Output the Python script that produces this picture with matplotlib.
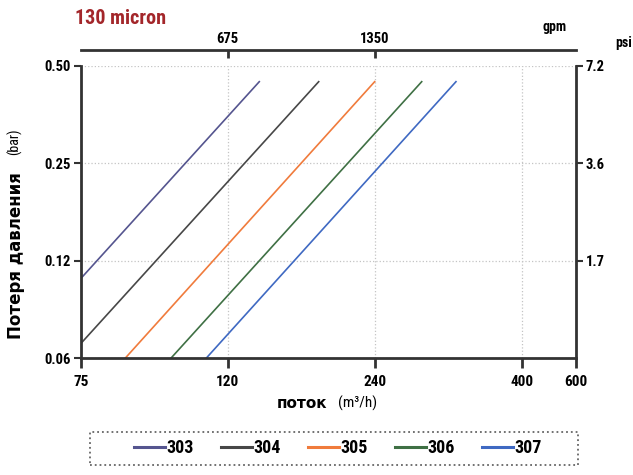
import matplotlib.pyplot as plt
import numpy as np
from matplotlib.lines import Line2D
from matplotlib.patches import Rectangle

# data
sizes = ['303', '304', '305', '306', '307']
colors = ['#55558f', '#474747', '#f07b3c', '#3f7044', '#3f69c2']
flow_start = [75, 75, 88.6, 102.6, 113.4]        # m3/h
flow_end = [145.8, 194.3, 240, 291.2, 328.5]
dp_start = [0.109, 0.069, 0.06, 0.06, 0.06]      # bar
dp_end = [0.459, 0.459, 0.459, 0.459, 0.459]

x_ticks = [75, 120, 240, 400, 600]
y_ticks = [0.06, 0.12, 0.25, 0.50]
y_tick_labels = ['0.06', '0.12', '0.25', '0.50']
gpm_ticks = [120, 240]
gpm_labels = ['675', '1350']
psi_ticks = [0.12, 0.25, 0.50]
psi_labels = ['1.7', '3.6', '7.2']

# the chart's axes are not log, tick positions are spaced by hand
x_pos = [0, 1, 2, 3, 3.37]
y_pos = [0, 1, 2, 3]


def fx(v):
    return np.interp(v, x_ticks, x_pos)


def fxi(p):
    return np.interp(p, x_pos, x_ticks)


def fy(v):
    return np.interp(v, y_ticks, y_pos)


def fyi(p):
    return np.interp(p, y_pos, y_ticks)


plt.rcParams['font.family'] = ['Roboto Condensed', 'Liberation Sans', 'DejaVu Sans']
plt.rcParams['font.weight'] = 'bold'
wide = 'DejaVu Sans'
spine_col = '#333333'

fig = plt.figure(figsize=(6.33, 4.75), dpi=100)
ax = fig.add_axes([0.1275, 0.2457, 0.7825, 0.616])
ax.set_xscale('function', functions=(fx, fxi))
ax.set_yscale('function', functions=(fy, fyi))
ax.set_xlim(75, 600)
ax.set_ylim(0.06, 0.50)

for i in range(len(sizes)):
    ax.plot([flow_start[i], flow_end[i]], [dp_start[i], dp_end[i]], color=colors[i], lw=1.2)

ax.set_xticks(x_ticks, [str(t) for t in x_ticks])
ax.set_yticks(y_ticks, y_tick_labels)
ax.minorticks_off()
ax.tick_params(axis='x', length=7, width=2, color=spine_col, pad=5, labelsize=11)
ax.tick_params(axis='y', length=5, width=1.5, color=spine_col, pad=2, labelsize=10.5)
ax.grid(True, ls=':', color='#c4c4c4', lw=0.9)
ax.spines['top'].set_visible(False)
ax.spines['right'].set_visible(False)
for s in ['left', 'bottom']:
    ax.spines[s].set_color(spine_col)
    ax.spines[s].set_linewidth(2)

# right axis: psi
ax_r = ax.twinx()
ax_r.set_yscale('function', functions=(fy, fyi))
ax_r.set_ylim(0.06, 0.50)
ax_r.set_yticks(psi_ticks, psi_labels)
ax_r.minorticks_off()
ax_r.tick_params(axis='y', length=5, width=1.5, color=spine_col, pad=2, labelsize=10.5)
for s in ['left', 'top', 'bottom']:
    ax_r.spines[s].set_visible(False)
ax_r.spines['right'].set_color(spine_col)
ax_r.spines['right'].set_linewidth(2)

# top axis: gpm
ax_t = ax.twiny()
ax_t.set_xscale('function', functions=(fx, fxi))
ax_t.set_xlim(75, 600)
ax_t.set_xticks(gpm_ticks, gpm_labels)
ax_t.minorticks_off()
ax_t.tick_params(axis='x', direction='in', length=6, width=2, color=spine_col, pad=3, labelsize=10.5)
for s in ['left', 'right', 'bottom']:
    ax_t.spines[s].set_visible(False)
ax_t.spines['top'].set_position(('outward', 11.5))
ax_t.spines['top'].set_color(spine_col)
ax_t.spines['top'].set_linewidth(2)

# texts
fig.text(75 / 633, 1 - 18 / 475, '130 micron', color='#a3262a', fontsize=14.5,
         ha='left', va='center')
fig.text(555 / 633, 1 - 27 / 475, 'gpm', fontsize=10, ha='center', va='center')
fig.text(624 / 633, 1 - 43 / 475, 'psi', fontsize=10, ha='center', va='center')
fig.text(16 / 633, 1 - 256 / 475, 'Потеря давления', rotation=90, fontsize=12,
         fontfamily=wide, fontweight='bold', ha='center', va='center')
fig.text(14 / 633, 1 - 142 / 475, '(bar)', rotation=90, fontsize=10, fontweight='normal',
         ha='center', va='center')
fig.text(302 / 633, 1 - 403 / 475, 'поток', fontsize=11, fontfamily=wide,
         fontweight='bold', ha='center', va='center')
fig.text(358 / 633, 1 - 403 / 475, '(m³/h)', fontsize=11, fontweight='normal',
         ha='center', va='center')

# legend in a dotted box
fig.patches.append(Rectangle((90 / 633, 1 - 465 / 475), 488 / 633, 33 / 475,
                             transform=fig.transFigure, fill=False, ls=':',
                             ec='#666666', lw=1.3))
handles = [Line2D([], [], color=c, lw=2.2) for c in colors]
fig.legend(handles, sizes, ncol=5, loc='center', bbox_to_anchor=(338 / 633, 1 - 448 / 475),
           frameon=False, handlelength=1.7, handletextpad=0.1, columnspacing=1.5,
           prop={'weight': 'bold', 'size': 13})

fig.savefig('out.png', dpi=100)
